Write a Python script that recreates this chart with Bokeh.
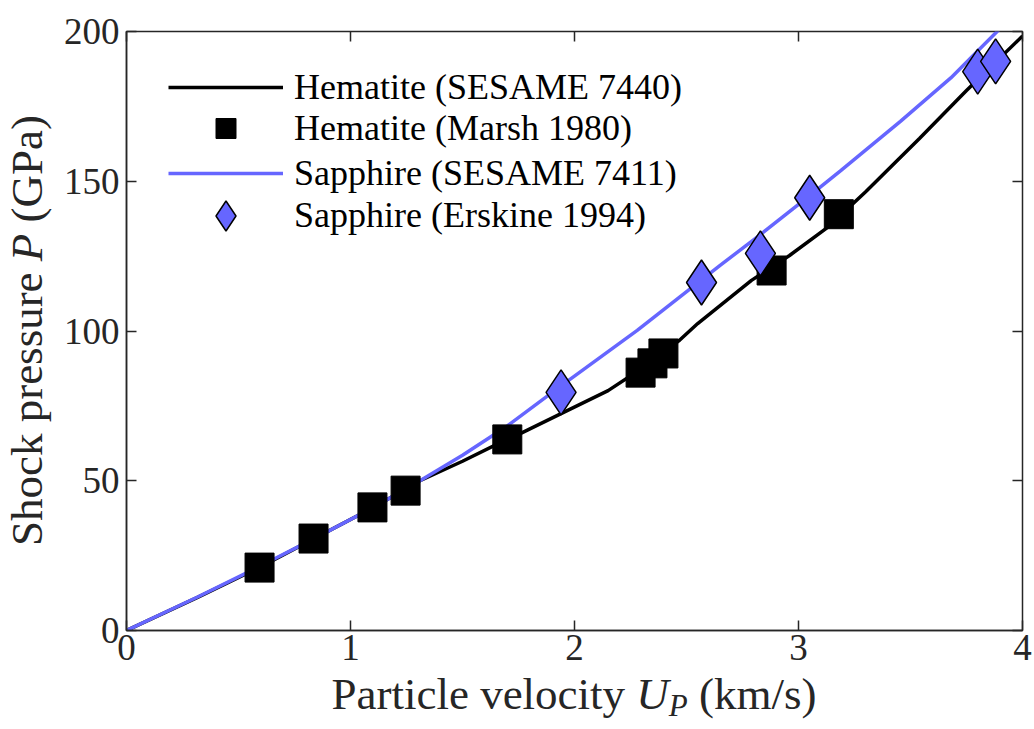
from bokeh.plotting import figure
from bokeh.models import (Range1d, FixedTicker, LinearAxis, Legend, LegendItem, Div,
                          CustomJSTickFormatter)
from bokeh.layouts import row, column
from bokeh.embed import file_html
from bokeh.resources import INLINE

# ---------------- data ----------------
hem_sesame_up = [0.0, 0.315, 0.6, 0.835, 1.1, 1.31, 1.5, 1.7, 1.76, 1.94, 2.15, 2.3, 2.47, 2.55, 2.79, 2.96, 3.13, 3.3, 3.54, 3.75, 4.0]
hem_sesame_p = [0.0, 11.0, 21.3, 30.6, 41.0, 50.0, 56.5, 63.9, 65.8, 72.4, 80.1, 87.5, 97.0, 102.5, 116.9, 125.2, 134.6, 146.5, 164.3, 180.3, 198.5]

hem_marsh_up = [0.594, 0.835, 1.098, 1.246, 1.70, 2.295, 2.348, 2.397, 2.88, 3.18]
hem_marsh_p = [21.0, 30.7, 41.1, 46.7, 63.8, 86.1, 89.2, 92.5, 120.2, 139.0]

sap_sesame_up = [0.0, 0.315, 0.6, 0.835, 1.1, 1.31, 1.5, 1.7, 1.94, 2.28, 2.65, 2.83, 3.05, 3.19, 3.455, 3.68, 3.9]
sap_sesame_p = [0.0, 11.1, 21.6, 30.6, 41.0, 50.0, 58.5, 68.3, 81.7, 100.2, 121.9, 132.2, 145.2, 153.6, 170.0, 184.5, 201.0]

sap_erskine_up = [1.94, 2.567, 2.83, 3.05, 3.80, 3.88]
sap_erskine_p = [79.5, 116.2, 125.9, 144.5, 186.6, 190.0]

x_ticks = [0, 1, 2, 3, 4]
y_ticks = [0, 50, 100, 150, 200]

legend_labels = ["Hematite (SESAME 7440)", "Hematite (Marsh 1980)",
                 "Sapphire (SESAME 7411)", "Sapphire (Erskine 1994)"]

x_label_html = "Particle velocity <i>U</i><i style=\"font-size:31px;vertical-align:-7px;\">P</i> (km/s)"
y_label_html = "Shock pressure <i>P</i> (GPa)"

# ---------------- styling / layout ----------------
FONT = "Liberation Serif"
AX_COL = "#262626"
BLUE = "#6666FF"

TOTAL_W, TOTAL_H = 1034, 729
YDIV_W = 60
FIG_W, FIG_H = TOTAL_W - YDIV_W, 680
XDIV_H = TOTAL_H - FIG_H
ML, MR, MT, MB = 126 - YDIV_W, 12, 31, 50
FW, FH = FIG_W - ML - MR, FIG_H - MT - MB

p = figure(width=FIG_W, height=FIG_H, x_range=Range1d(0, 4), y_range=Range1d(0, 200),
           output_backend="svg", toolbar_location=None,
           min_border_left=ML, min_border_right=MR, min_border_top=MT, min_border_bottom=MB)
p.grid.visible = False
p.outline_line_color = AX_COL
p.outline_line_width = 1.5
p.background_fill_color = "white"
p.border_fill_color = "white"

xb = p.below[0]
yl = p.left[0]
for ax, ticks in ((xb, x_ticks), (yl, y_ticks)):
    ax.ticker = FixedTicker(ticks=ticks)
    ax.major_tick_in = 10
    ax.major_tick_out = 0
    ax.minor_tick_line_color = None
    ax.major_tick_line_color = AX_COL
    ax.major_tick_line_width = 1.5
    ax.axis_line_color = AX_COL
    ax.axis_line_width = 1.5
    ax.major_label_text_font = FONT
    ax.major_label_text_font_size = "37px"
    ax.major_label_text_color = AX_COL
xb.major_label_standoff = 4
yl.major_label_standoff = 7

blank = CustomJSTickFormatter(code="return ''")
for side, ticks in (("above", x_ticks), ("right", y_ticks)):
    ax = LinearAxis(ticker=FixedTicker(ticks=ticks), formatter=blank,
                    major_label_text_font_size="0px", major_label_standoff=0,
                    major_tick_in=10, major_tick_out=0, minor_tick_line_color=None,
                    axis_line_color=None, major_tick_line_color=AX_COL,
                    major_tick_line_width=1.5)
    p.add_layout(ax, side)

# ---------------- glyphs ----------------
r_hl = p.line(hem_sesame_up, hem_sesame_p, line_color="black", line_width=3.5)
r_sl = p.line(sap_sesame_up, sap_sesame_p, line_color=BLUE, line_width=3.5)
r_hm = p.scatter(hem_marsh_up, hem_marsh_p, marker="square", size=29,
                 fill_color="black", line_color="black", line_width=1)
r_sm = p.scatter(sap_erskine_up, sap_erskine_p, marker="diamond", size=45,
                 fill_color=BLUE, line_color="black", line_width=1.5)

# ---------------- legend (one box per row, so each marker gets its size) ----------------
rows = [
    (legend_labels[0], r_hl, 44, 87),
    (legend_labels[1], r_hm, 50, 128),
    (legend_labels[2], r_sl, 44, 173),
    (legend_labels[3], r_sm, 75, 215),
]
for label, rend, gh, cy in rows:
    vy = FH - (cy - MT) - gh / 2.0
    leg = Legend(items=[LegendItem(label=label, renderers=[rend])],
                 location=(42, vy), glyph_width=115, glyph_height=gh,
                 label_height=gh, label_standoff=11, padding=0, margin=0, spacing=0,
                 border_line_alpha=0, background_fill_alpha=0,
                 label_text_font=FONT, label_text_font_size="36px",
                 label_text_color="black")
    p.add_layout(leg)

# ---------------- axis labels (HTML, for italic symbols) ----------------
LF = 45
lab_style = (f"font-family:'{FONT}';font-size:{LF}px;line-height:{LF}px;"
             f"color:{AX_COL};white-space:nowrap;")
# x label centred on the frame
frame_cx_in_div = ML + FW / 2.0
pad = 2 * frame_cx_in_div - FIG_W
xdiv = Div(text=(f"<div style=\"position:relative;width:{FIG_W}px;height:{XDIV_H}px;\">"
                 f"<div style=\"position:absolute;left:{pad:.0f}px;top:-8px;"
                 f"width:{FIG_W - pad:.0f}px;text-align:center;{lab_style}\">"
                 f"{x_label_html}</div></div>"),
           width=FIG_W, height=XDIV_H, margin=(0, 0, 0, 0),
           styles={"overflow": "visible"})
# y label rotated, centred on the frame
frame_cy = MT + FH / 2.0
ydiv = Div(text=(f"<div style=\"position:relative;width:{YDIV_W}px;height:{TOTAL_H}px;\">"
                 f"<div style=\"position:absolute;left:5px;top:{frame_cy + TOTAL_H / 2.0:.1f}px;"
                 f"width:{TOTAL_H}px;text-align:center;transform-origin:0 0;"
                 f"transform:rotate(-90deg);{lab_style}\">"
                 f"{y_label_html}</div></div>"),
           width=YDIV_W, height=TOTAL_H, margin=(0, 0, 0, 0),
           styles={"overflow": "visible"})

layout = row(ydiv, column(p, xdiv, spacing=0), spacing=0)

open("out.html", "w").write(file_html(layout, INLINE))
